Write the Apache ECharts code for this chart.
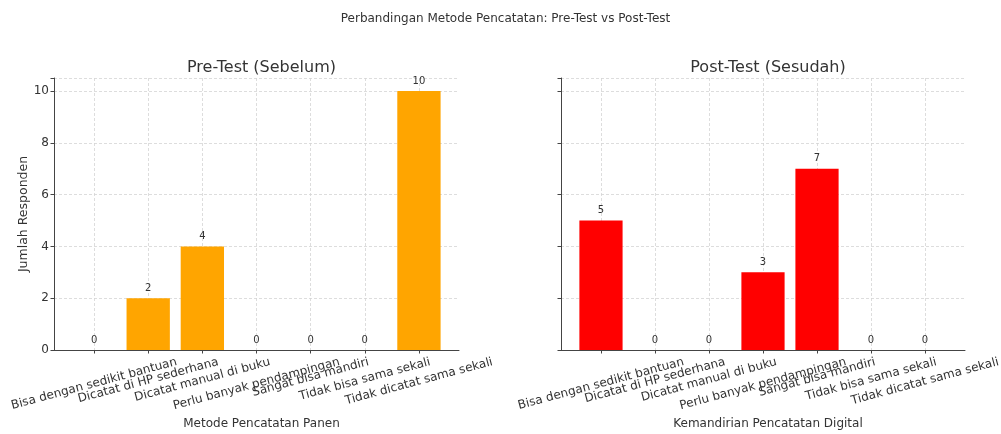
<!DOCTYPE html>
<html>
<head>
<meta charset="utf-8">
<script src="https://cdn.jsdelivr.net/npm/echarts@6/dist/echarts.min.js"></script>
<style>
html,body{margin:0;padding:0;background:#fff;}
#chart{width:1001px;height:434px;}
</style>
</head>
<body>
<div id="chart"></div>
<script>
// ---- data ----
const categories = [
  'Bisa dengan sedikit bantuan',
  'Dicatat di HP sederhana',
  'Dicatat manual di buku',
  'Perlu banyak pendampingan',
  'Sangat bisa mandiri',
  'Tidak bisa sama sekali',
  'Tidak dicatat sama sekali'
];
const preTest = [0, 2, 4, 0, 0, 0, 10];
const postTest = [5, 0, 0, 3, 7, 0, 0];
const yTicks = [0, 2, 4, 6, 8, 10];
const suptitle = 'Perbandingan Metode Pencatatan: Pre-Test vs Post-Test';
const titlePre = 'Pre-Test (Sebelum)';
const titlePost = 'Post-Test (Sesudah)';
const xNamePre = 'Metode Pencatatan Panen';
const xNamePost = 'Kemandirian Pencatatan Digital';
const yName = 'Jumlah Responden';

// ---- layout ----
const W = 1001, H = 434;
const FONT = '"DejaVu Sans", sans-serif';
const TXT = '#333';
const plotTop = 78, plotBottom = 350;
const unit = 54.1;         // px per category
const pad = 0.24 * unit;   // matplotlib margin beyond bar edges
const panels = [
  {left: 54, right: 459, data: preTest, color: '#FFA500', title: titlePre, xname: xNamePre, showY: true},
  {left: 561, right: 965, data: postTest, color: '#FF0000', title: titlePost, xname: xNamePost, showY: false}
];

const canvas = document.createElement('canvas');
const ctx = canvas.getContext('2d');
ctx.font = '12px "DejaVu Sans"';
const rot = 15 * Math.PI / 180;
const labelTop = 5;   // px below the axis where the rotated label box starts
const textH = 14;

const grids = [], xAxes = [], yAxes = [], series = [], titles = [];
const gridLine = {show: true, lineStyle: {color: '#d4d4d4', type: [3, 2], width: 0.8}};
const yMax = 10.5;

titles.push({text: suptitle, left: W / 2, top: 8, textAlign: 'center',
  textStyle: {fontFamily: FONT, fontSize: 12, fontWeight: 'normal', color: TXT}});

function mkGrid(l, r) {
  return {left: l, top: plotTop, width: r - l, height: plotBottom - plotTop,
    containLabel: false, outerBoundsMode: 'none'};
}

panels.forEach((pn, i) => {
  const gA = grids.length;
  // spine grid
  grids.push(mkGrid(pn.left, pn.right));
  xAxes.push({gridIndex: gA, type: 'value', min: 0, max: 1, axisLine: {show: true, lineStyle: {color: '#444', width: 1}},
    axisTick: {show: false}, axisLabel: {show: false}, splitLine: {show: false}});
  yAxes.push({gridIndex: gA, type: 'value', min: 0, max: yMax, interval: 2,
    axisLine: {show: true, lineStyle: {color: '#444', width: 1}},
    axisTick: {show: true, length: 3.5, lineStyle: {color: '#444'}},
    axisLabel: {show: pn.showY, fontFamily: FONT, fontSize: 12, color: TXT, margin: 5,
      formatter: v => (yTicks.indexOf(v) >= 0 ? String(v) : '')},
    splitLine: gridLine,
    name: pn.showY ? yName : '', nameLocation: 'middle', nameGap: 24, nameRotate: 90,
    nameTextStyle: {fontFamily: FONT, fontSize: 12.5, color: TXT}});
  // data grid
  const gB = grids.length;
  const bl = pn.left + pad, br = pn.right - pad;
  grids.push(mkGrid(bl, br));
  xAxes.push({gridIndex: gB, type: 'category', data: categories,
    axisLine: {show: false}, axisTick: {show: false}, splitLine: {show: false},
    axisLabel: {show: false}});
  yAxes.push({gridIndex: gB, type: 'value', min: 0, max: yMax, show: false, splitLine: {show: false}});
  series.push({type: 'bar', xAxisIndex: gB, yAxisIndex: gB, data: pn.data, barCategoryGap: '20%',
    itemStyle: {color: pn.color}, z: 3,
    label: {show: true, position: 'top', distance: 5, fontFamily: FONT, fontSize: 10, color: TXT}});
  // rotated category labels (matplotlib-style: rotated box centred under tick)
  series.push({type: 'custom', xAxisIndex: gB, yAxisIndex: gB, silent: true, clip: false, z: 5,
    data: categories.map((c, k) => [k, 0]),
    renderItem: function (params, api) {
      const k = api.value(0);
      const text = categories[k];
      const pt = api.coord([k, 0]);
      const w = ctx.measureText(text).width;
      const dy = labelTop + (w * Math.sin(rot) + textH * Math.cos(rot)) / 2;
      return {type: 'text', x: pt[0], y: pt[1] + dy, rotation: rot,
        style: {text: text, fontSize: 12, fontFamily: FONT, fill: TXT, align: 'center', verticalAlign: 'middle'}};
    }});
  // vertical gridlines + x ticks at category centers
  const gC = grids.length;
  const cl = bl + unit / 2, cr = br - unit / 2;
  grids.push(mkGrid(cl, cr));
  xAxes.push({gridIndex: gC, type: 'value', min: 0, max: categories.length - 1, interval: 1,
    axisLine: {show: false}, axisLabel: {show: false},
    axisTick: {show: true, length: 3.5, lineStyle: {color: '#444'}},
    splitLine: gridLine});
  yAxes.push({gridIndex: gC, type: 'value', min: 0, max: yMax, show: false, splitLine: {show: false}});

  const cx = (pn.left + pn.right) / 2;
  titles.push({text: pn.title, left: cx, top: 55, textAlign: 'center',
    textStyle: {fontFamily: FONT, fontSize: 16, fontWeight: 'normal', color: TXT}});
  titles.push({text: pn.xname, left: cx, top: 413, textAlign: 'center',
    textStyle: {fontFamily: FONT, fontSize: 12, fontWeight: 'normal', color: TXT}});
});

const chart = echarts.init(document.getElementById('chart'), null, {renderer: 'canvas'});
chart.setOption({
  backgroundColor: '#fff',
  animation: false,
  title: titles,
  grid: grids,
  xAxis: xAxes,
  yAxis: yAxes,
  series: series
});
</script>
</body>
</html>
